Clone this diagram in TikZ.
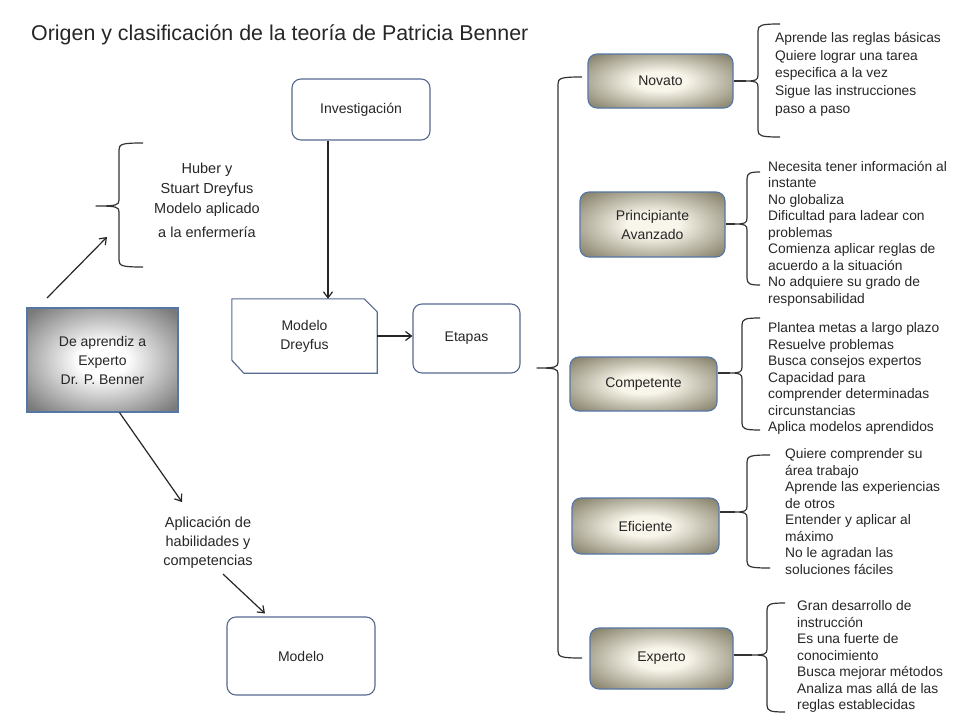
\documentclass[tikz,border=0pt]{standalone}
\usepackage{fontspec}
\setmainfont{Liberation Sans}
\usepackage{xcolor}
\usepackage{tikz}
\usetikzlibrary{arrows.meta}
\definecolor{borde}{HTML}{56698F}
\definecolor{bordeazul}{HTML}{5676A6}
\definecolor{oliva}{HTML}{858069}
\definecolor{crema}{HTML}{F8F5EA}
\definecolor{gris}{HTML}{7A7A7A}
\definecolor{texto}{HTML}{262626}
\pgfdeclareradialshading{etapa}{\pgfpoint{0bp}{0bp}}{color(0bp)=(crema);
  color(9bp)=(crema); color(34bp)=(oliva); color(50bp)=(oliva)}
\pgfdeclareradialshading{grisado}{\pgfpoint{0bp}{0bp}}{color(0bp)=(white);
  color(8bp)=(white); color(33bp)=(gris); color(50bp)=(gris)}
\tikzset{
  textonodo/.style = {align=center, inner sep=0pt, text=texto,
    font=\fontsize{14}{19}\selectfont},
  caja_b/.style = {textonodo, rectangle, rounded corners=9pt, draw=borde,
    line width=1.1pt, fill=white},% caja blanca
  caja_e/.style = {textonodo, rectangle, rounded corners=9pt, draw=bordeazul,
    line width=1.1pt, shading=etapa},% caja de etapa
  caja_g/.style = {textonodo, rectangle, draw=bordeazul, line width=1.1pt,
    shading=grisado},% caja gris
  lista/.style = {align=left, inner sep=0pt, anchor=north west, text=texto,
    font=\fontsize{13.8}{16.5}\selectfont},% texto de cada etapa
  llave/.style = {line width=1.2pt, black!80, line join=round},
  flecha/.style = {->, line width=1.2pt, black!85}
}
% llave: x vertical, y arriba, y abajo, x punta, y punta, x gancho
\newcommand{\dibllave}[6]{%
  \draw[llave] (#6,#2) .. controls (#1+3,#2) and (#1,#2+1) .. (#1,#2+7)
    -- (#1,#5-6) .. controls (#1,#5-1) and (#1-2,#5) .. (#4,#5)
    .. controls (#1-2,#5) and (#1,#5+1) .. (#1,#5+6)
    -- (#1,#3-7) .. controls (#1,#3-1) and (#1+3,#3) .. (#6,#3);}

\begin{document}
\begin{tikzpicture}[x=1pt, y=-1pt, >={Straight Barb[length=6pt,width=9pt]}]
\useasboundingbox (0,0) rectangle (959,715);
\node [anchor=west, inner sep=0pt, text=texto, font=\fontsize{21.4}{25}\selectfont]
  (titulo) at (31,35) {Origen y clasificación de la teoría de Patricia Benner};

% parte izquierda
\node [caja_g, minimum width=151pt, minimum height=104pt] (benner) at (102.5,360)
  {De aprendiz a\\Experto\\Dr. P. Benner};
\node [textonodo, font=\fontsize{14.5}{20}\selectfont] (huber) at (207,200)
  {Huber y\\Stuart Dreyfus\\Modelo aplicado\\[4pt]a la enfermería};
\dibllave{119}{143}{267}{96}{206}{143}
\coordinate (a1) at (47,298);
\coordinate (a2) at (107,237);
\draw[flecha] (a1) -- (a2);
\node [textonodo, font=\fontsize{14.5}{19}\selectfont] (apl) at (208,543)
  {Aplicación de\\habilidades y\\competencias};
\coordinate (a3) at (182,502);
\draw[flecha] ([xshift=17pt]benner.south) -- (a3);
\node [caja_b, minimum width=148pt, minimum height=78pt] (modelo) at (301,656) {Modelo};
\draw[flecha] ([xshift=15pt,yshift=-5pt]apl.south) -- ([xshift=-36pt,yshift=3pt]modelo.north);

% centro
\node [caja_b, minimum width=138pt, minimum height=61pt] (invest) at (361,109.5) {Investigación};
\node [textonodo, minimum width=145pt, minimum height=74pt] (dreyfus) at (304.5,336)
  {Modelo\\Dreyfus};
\draw[borde, line width=1.1pt] (dreyfus.north west)
  -- ([yshift=13pt]dreyfus.south west) -- ([xshift=12pt]dreyfus.south west)
  -- (dreyfus.south east) -- ([yshift=-13pt]dreyfus.north east)
  -- ([xshift=-13pt]dreyfus.north east) -- cycle;
\node [caja_b, minimum width=107pt, minimum height=69pt] (etapas) at (466.5,338.5) {Etapas};
\draw[flecha] ([xshift=-33pt]invest.south) -- ([xshift=-33pt]invest.south |- dreyfus.north);
\draw[flecha] (dreyfus.east) -- (dreyfus.east -| etapas.west);
\dibllave{558}{77}{658}{537}{368}{582}

% etapas
\node [caja_e, minimum width=145pt, minimum height=54pt] (novato) at (660.5,81) {Novato};
\node [caja_e, minimum width=145pt, minimum height=65pt] (princ) at (652.5,224.5)
  {Principiante\\Avanzado};
\node [caja_e, minimum width=147pt, minimum height=54pt] (compet) at (643.5,384) {Competente};
\node [caja_e, minimum width=147pt, minimum height=56pt] (efic) at (645.5,526) {Eficiente};
\node [caja_e, minimum width=143pt, minimum height=61pt] (exper) at (661.5,658.5) {Experto};

\coordinate (tn) at (746,81);
\coordinate (tp) at (735,224);
\coordinate (tc) at (730,373);
\coordinate (tf) at (735,512);
\coordinate (tx) at (752,655);
\dibllave{758}{24}{137}{746}{81}{780}
\dibllave{747}{172}{285}{735}{224}{760}
\dibllave{742}{318}{430}{730}{373}{760}
\dibllave{747}{455}{568}{735}{512}{770}
\dibllave{767}{603}{712}{752}{655}{785}
\draw[llave] (tn -| novato.east) -- (tn);
\draw[llave] (tp -| princ.east) -- (tp);
\draw[llave] (tc -| compet.east) -- (tc);
\draw[llave] (tf -| efic.east) -- (tf);
\draw[llave] (tx -| exper.east) -- (tx);

\node [lista, font=\fontsize{13.8}{17.7}\selectfont] (l_novato) at (775,32)
  {Aprende las reglas básicas\\Quiere lograr una tarea\\especifica a la vez\\Sigue las instrucciones\\paso a paso};
\node [lista] (l_princ) at (768,161)
  {Necesita tener información al\\instante\\No globaliza\\Dificultad para ladear con\\problemas\\Comienza aplicar reglas de\\acuerdo a la situación\\No adquiere su grado de\\responsabilidad};
\node [lista] (l_compet) at (768,322.5)
  {Plantea metas a largo plazo\\Resuelve problemas\\Busca consejos expertos\\Capacidad para\\comprender determinadas\\circunstancias\\Aplica modelos aprendidos};
\node [lista] (l_efic) at (785,448.5)
  {Quiere comprender su\\área trabajo\\Aprende las experiencias\\de otros\\Entender y aplicar al\\máximo\\No le agradan las\\soluciones fáciles};
\node [lista] (l_exper) at (797,600.5)
  {Gran desarrollo de\\instrucción\\Es una fuerte de\\conocimiento\\Busca mejorar métodos\\Analiza mas allá de las\\reglas establecidas};
\end{tikzpicture}
\end{document}
